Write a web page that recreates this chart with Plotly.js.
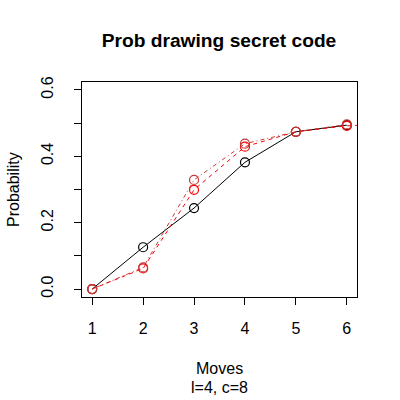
<!DOCTYPE html>
<html>
<head>
<meta charset="utf-8">
<script src="https://cdn.plot.ly/plotly-3.0.1.min.js"></script>
<style>html,body{margin:0;padding:0;background:#fff;}#chart{width:400px;height:400px;}</style>
</head>
<body>
<div id="chart"></div>
<script>
const moves = [1, 2, 3, 4, 5, 6];
const probBlack = [0.0, 0.126, 0.244, 0.382, 0.474, 0.494];
const movesDashed = [1, 2, 3, 4, 5, 6, 7];
const probDashed = [0.0, 0.062, 0.299, 0.429, 0.474, 0.492, 0.499];
const probDotDash = [0.0, 0.065, 0.329, 0.438, 0.474, 0.496];
const yTickVals = [0, 0.1, 0.2, 0.3, 0.4, 0.5, 0.6];
const yTickText = ["0.0", "", "0.2", "", "0.4", "", "0.6"];
const xTickVals = [1, 2, 3, 4, 5, 6];

const FONT = "Liberation Sans, Arial, Helvetica, sans-serif";

const traces = [
  {x: moves, y: probBlack, type: "scatter", mode: "lines+markers",
   line: {color: "#000000", width: 1},
   marker: {symbol: "circle-open", size: 9, color: "#000000", line: {width: 1.2, color: "#000000"}}},
  {x: movesDashed, y: probDashed, type: "scatter", mode: "lines+markers",
   line: {color: "#FF0000", width: 1, dash: "4px,4px"},
   marker: {symbol: "circle-open", size: 9, color: "#FF0000", line: {width: 1.2, color: "#FF0000"}}},
  {x: moves, y: probDotDash, type: "scatter", mode: "lines+markers",
   line: {color: "#C23B3B", width: 1, dash: "1px,3px,4px,3px"},
   marker: {symbol: "circle-open", size: 9, color: "#C23B3B", line: {width: 1.2, color: "#C23B3B"}}}
];

const layout = {
  width: 400, height: 400,
  margin: {l: 82, r: 43, t: 81.5, b: 103, pad: 0},
  paper_bgcolor: "#ffffff", plot_bgcolor: "#ffffff",
  showlegend: false,
  font: {family: FONT, size: 16, color: "#000"},
  title: {text: "<b>Prob drawing secret code</b>", font: {family: FONT, size: 19.2, color: "#000"},
          x: 0.5475, xanchor: "center", xref: "container", y: 0.9, yref: "container", yanchor: "middle"},
  xaxis: {range: [0.8, 6.2], tickvals: xTickVals, ticks: "outside", ticklen: 7, tickwidth: 1, tickcolor: "#000",
          showline: true, mirror: true, linecolor: "#000", linewidth: 1, showgrid: false, zeroline: false,
          tickfont: {family: FONT, size: 16, color: "#000"}, ticklabelstandoff: 10},
  yaxis: {range: [-0.024, 0.624], tickvals: yTickVals, ticktext: yTickText, ticks: "outside", ticklen: 7, tickwidth: 1,
          tickcolor: "#000", tickangle: -90, showline: true, mirror: true, linecolor: "#000", linewidth: 1,
          showgrid: false, zeroline: false, tickfont: {family: FONT, size: 16, color: "#000"}, ticklabelstandoff: 15},
  annotations: [
    {text: "Moves", xref: "paper", yref: "paper", x: 0.5, y: (297 - 369) / 215.5, xanchor: "center", yanchor: "middle",
     showarrow: false, font: {family: FONT, size: 16, color: "#000"}},
    {text: "l=4, c=8", xref: "paper", yref: "paper", x: 0.5, y: (297 - 388) / 215.5, xanchor: "center", yanchor: "middle",
     showarrow: false, font: {family: FONT, size: 16, color: "#000"}},
    {text: "Probability", xref: "paper", yref: "paper", x: (13.5 - 82) / 275, y: 0.5, xanchor: "center", yanchor: "middle",
     textangle: -90, showarrow: false, font: {family: FONT, size: 16, color: "#000"}}
  ]
};

Plotly.newPlot("chart", traces, layout, {displayModeBar: false, staticPlot: true});
</script>
</body>
</html>
